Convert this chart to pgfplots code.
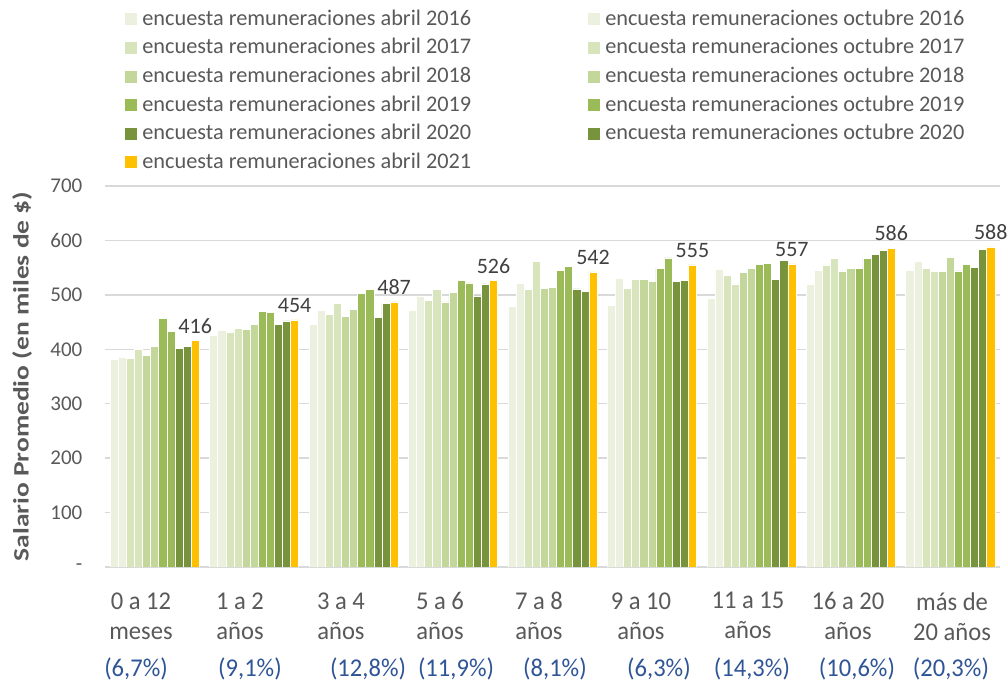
\documentclass[border=0pt]{standalone}
\usepackage{pgfplots}
\pgfplotsset{compat=1.18}
\usepackage{fontspec}
\setmainfont{Carlito}
\newfontfamily\condfont[FakeStretch=0.96]{Carlito}
\newfontfamily\widefont[FakeStretch=1.25]{Carlito}
\definecolor{cA}{HTML}{EBF1DE}
\definecolor{cB}{HTML}{D8E4BC}
\definecolor{cC}{HTML}{C4D79B}
\definecolor{cD}{HTML}{9BBB59}
\definecolor{cE}{HTML}{77933C}
\definecolor{cF}{HTML}{FFC000}
\definecolor{txt}{HTML}{595959}
\definecolor{lbl}{HTML}{404040}
\definecolor{pct}{HTML}{2F5597}
\definecolor{gridc}{HTML}{D9D9D9}
\begin{document}
\begin{tikzpicture}
\useasboundingbox (0,0) rectangle (504pt,344pt);
\begin{axis}[
  at={(52.5pt,60.5pt)}, anchor=south west,
  scale only axis, width=447.5pt, height=190.5pt,
  ybar=0pt, bar width=4.05pt,
  xmin=-0.5, xmax=8.5, ymin=0, ymax=700,
  xtick={-0.138,0.858,1.873,2.869,3.864,4.890,5.966,6.972,8.018},
  xticklabels={
    {0 a 12\\meses},
    {1 a 2\\años},
    {3 a 4\\años},
    {5 a 6\\años},
    {7 a 8\\años},
    {9 a 10\\años},
    {11 a 15\\años},
    {16 a 20\\años},
    {más de\\20 años}},
  xticklabel style={align=center, font=\condfont\fontsize{12.8}{15}\selectfont, text=txt, yshift=-9.2pt},
  extra x ticks={-0.188,0.958,2.145,3.030,4.025,5.071,6.006,7.062,8.007},
  extra x tick labels={(6,7\%),(9,1\%),(12,8\%),(11,9\%),(8,1\%),(6,3\%),(14,3\%),(10,6\%),(20,3\%)},
  extra x tick style={xticklabel style={text=pct, yshift=-32.5pt}, major tick length=0pt},
  ytick={0,100,...,700},
  yticklabels={-,100,200,300,400,500,600,700},
  yticklabel style={font=\fontsize{10.5}{12}\selectfont, text=txt, xshift=-7.8pt},
  /pgf/number format/assume math mode=true,
  ymajorgrids, grid style={draw=gridc, line width=0.75pt},
  axis line style={draw=none}, major tick length=0pt,
  ylabel={Salario Promedio (en miles de \$)},
  ylabel style={at={(axis description cs:-0.0927,0.5)}, anchor=center, font=\widefont\bfseries\fontsize{11}{13}\selectfont, text=txt},
  legend columns=2,
  legend style={at={(axis description cs:0.0223,1.4674)}, anchor=north west, draw=none, fill=none, inner sep=0pt,
    font=\fontsize{11.15}{13}\selectfont, text=txt,
    nodes={inner xsep=2.5pt, inner ysep=0pt, text height=8.5pt, text depth=2.5pt},
    row sep=3.3pt,
    /tikz/every even column/.append style={column sep=56pt}},
  legend cell align=left,
  legend image code/.code={\fill[#1,draw=none] (0pt,-3pt) rectangle (6pt,3pt);},
  every axis plot/.append style={draw=white, line width=0.3pt},
  nodes near coords style={font=\fontsize{11}{13}\selectfont, text=lbl},
]
\addplot[fill=cA] coordinates {(0,382) (1,425) (2,446) (3,472) (4,479) (5,481) (6,493) (7,520) (8,545)};
\addlegendentry{encuesta remuneraciones abril 2016}
\addplot[fill=cA] coordinates {(0,386) (1,434) (2,471) (3,498) (4,521) (5,530) (6,547) (7,545) (8,561)};
\addlegendentry{encuesta remuneraciones octubre 2016}
\addplot[fill=cB] coordinates {(0,383) (1,432) (2,464) (3,490) (4,510) (5,512) (6,536) (7,555) (8,549)};
\addlegendentry{encuesta remuneraciones abril 2017}
\addplot[fill=cB] coordinates {(0,400) (1,438) (2,485) (3,510) (4,561) (5,529) (6,520) (7,567) (8,543)};
\addlegendentry{encuesta remuneraciones octubre 2017}
\addplot[fill=cC] coordinates {(0,389) (1,436) (2,460) (3,487) (4,512) (5,528) (6,541) (7,544) (8,543)};
\addlegendentry{encuesta remuneraciones abril 2018}
\addplot[fill=cC] coordinates {(0,406) (1,446) (2,473) (3,505) (4,514) (5,525) (6,549) (7,549) (8,569)};
\addlegendentry{encuesta remuneraciones octubre 2018}
\addplot[fill=cD] coordinates {(0,457) (1,470) (2,503) (3,526) (4,545) (5,549) (6,556) (7,549) (8,544)};
\addlegendentry{encuesta remuneraciones abril 2019}
\addplot[fill=cD] coordinates {(0,433) (1,468) (2,510) (3,522) (4,552) (5,568) (6,558) (7,567) (8,556)};
\addlegendentry{encuesta remuneraciones octubre 2019}
\addplot[fill=cE] coordinates {(0,402) (1,446) (2,459) (3,498) (4,511) (5,524) (6,528) (7,574) (8,550)};
\addlegendentry{encuesta remuneraciones abril 2020}
\addplot[fill=cE] coordinates {(0,405) (1,452) (2,485) (3,520) (4,507) (5,527) (6,564) (7,582) (8,583)};
\addlegendentry{encuesta remuneraciones octubre 2020}
\addplot[fill=cF, nodes near coords] coordinates {(0,416) (1,454) (2,487) (3,526) (4,542) (5,555) (6,557) (7,586) (8,588)};
\addlegendentry{encuesta remuneraciones abril 2021}
\end{axis}
\end{tikzpicture}
\end{document}
